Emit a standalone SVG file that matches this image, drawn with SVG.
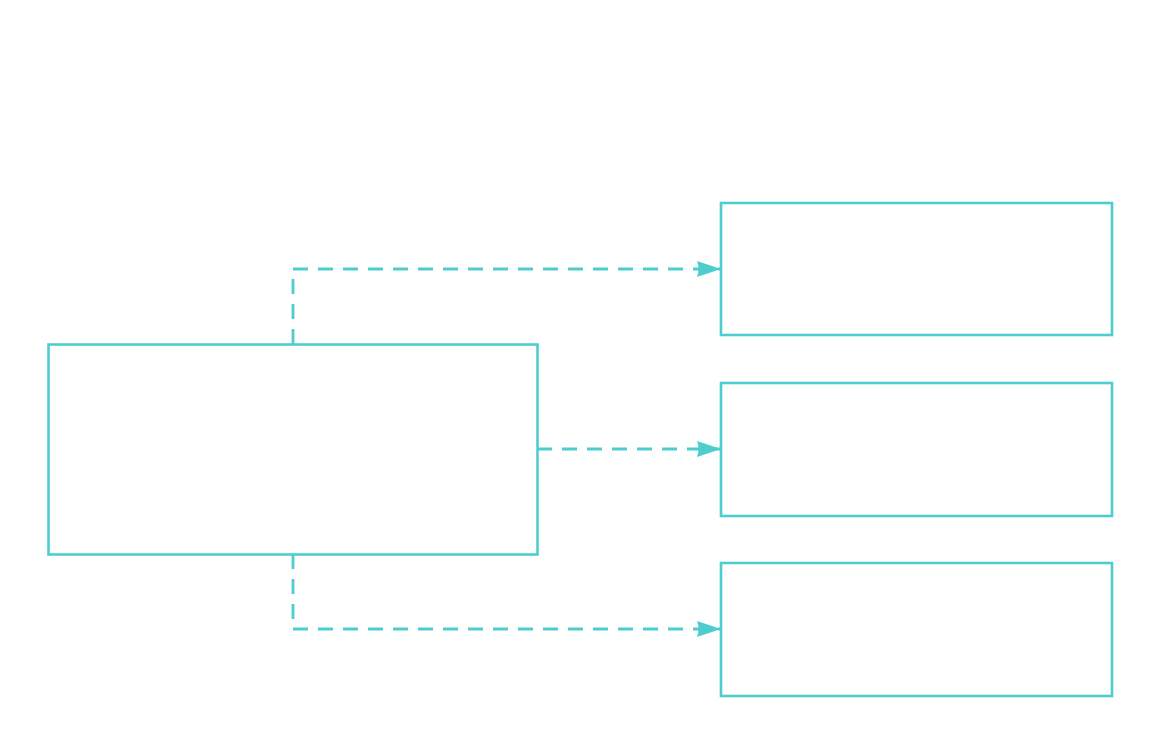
<svg xmlns="http://www.w3.org/2000/svg" width="1160" height="744" viewBox="0 0 1160 744">
<defs>
<style>
.node{fill:#ffffff;stroke:#4ECDCF;stroke-width:2.6}
.edge{fill:none;stroke:#4ECDCF;stroke-width:2.8;stroke-dasharray:15 10}
</style>
<marker id="arrow" viewBox="0 0 24 18" refX="24" refY="9" markerWidth="24" markerHeight="18" markerUnits="userSpaceOnUse" orient="auto">
<path d="M0,1 Q3,9 0,17 L24,9 Z" fill="#4ECDCF"/>
</marker>
</defs>
<rect width="1160" height="744" fill="#ffffff"/>
<g id="connectors">
<path class="edge" d="M293,344 V269 H721" marker-end="url(#arrow)"/>
<path class="edge" d="M537,449 H721" marker-end="url(#arrow)"/>
<path class="edge" d="M293,554 V629 H721" marker-end="url(#arrow)"/>
</g>
<g id="node-main"><rect class="node" x="48.5" y="344.5" width="489" height="210"/></g>
<g id="node-a"><rect class="node" x="721" y="203" width="391" height="132"/></g>
<g id="node-b"><rect class="node" x="721" y="383" width="391" height="133"/></g>
<g id="node-c"><rect class="node" x="721" y="563" width="391" height="133"/></g>
</svg>
